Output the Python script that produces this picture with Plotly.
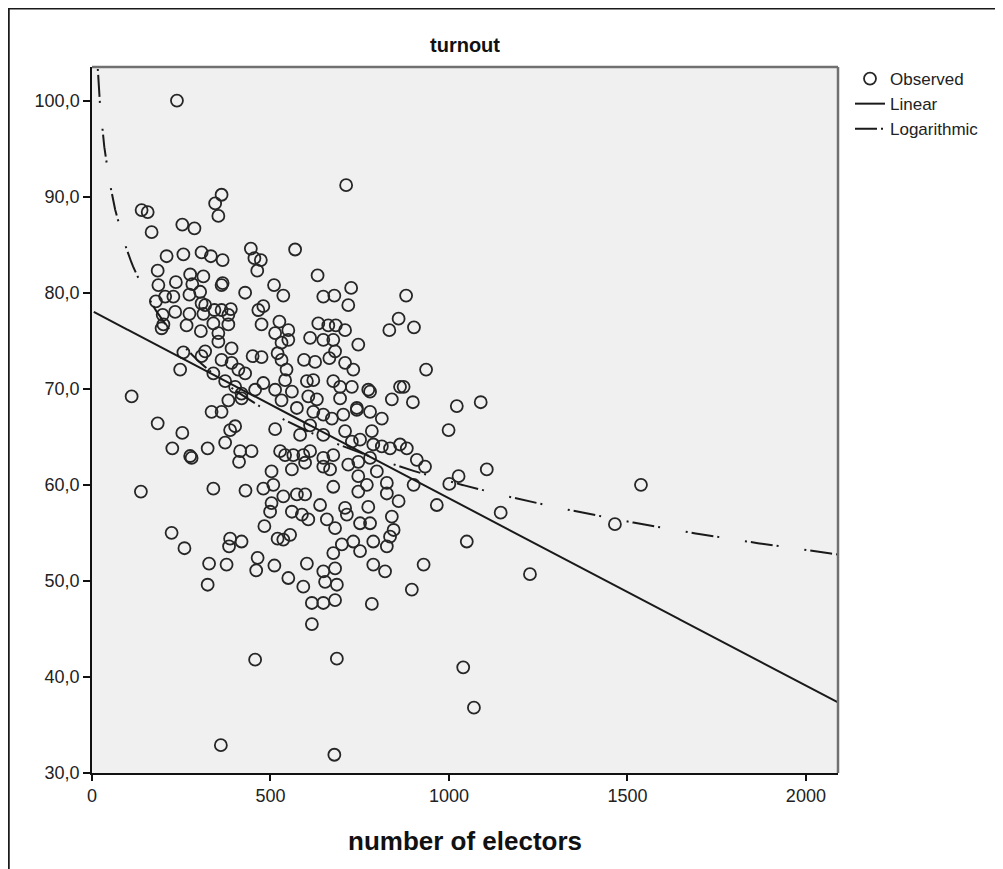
import numpy as np
import plotly.graph_objects as go

electors = [
    238,
    363, 345, 354, 139, 156, 167, 253, 287, 209, 256, 307, 333, 366, 445, 455, 473, 463, 569, 184,
    186, 235, 275, 312, 281, 363, 366, 429, 510, 536, 179, 205, 228, 273, 303, 307, 343, 363, 389, 382,
    317, 466, 480, 198, 233, 273, 312, 200, 195, 265, 305, 340, 354, 382, 475, 525, 513, 550, 531, 550,
    354, 391, 317, 256, 450, 475, 520, 531, 545, 247, 307, 363, 391, 410, 429, 340, 373, 401, 419, 457,
    480, 513, 541, 560, 531, 111, 382, 419,
    712, 632, 726, 648, 679, 718, 880, 859, 833, 902, 634, 662, 683, 709, 611, 648, 676, 746, 594, 625,
    665, 681, 709, 732, 936, 602, 620, 676, 695, 728, 774, 779, 863, 873, 840, 899, 1022, 1089, 630, 695,
    742, 606,
    184, 253, 225, 275, 279, 324, 373, 387, 401, 335, 363, 415, 447, 412, 513, 527, 541, 503, 508, 480,
    536, 503, 499, 560, 560, 137, 340, 430, 483, 520, 536, 555, 223, 259, 387, 384, 419, 328, 377, 464,
    460, 511, 550, 324,
    999, 1106, 1027, 1001, 966, 1050, 929, 896, 784, 616,
    602, 648, 653, 681, 686, 592, 616, 648, 681,
    788, 821, 676, 700, 732, 751,
    788, 826, 835, 845, 840, 859,
    639, 658, 681, 709, 714, 751, 779, 774,
    574, 597, 588, 606,
    676, 746, 770, 826, 826, 798, 746,
    901, 882, 910, 933, 835, 863, 812,
    788, 784, 812, 779,
    742, 704, 672, 648, 620, 574, 611, 583, 648, 709, 751, 728,
    564, 592, 611, 648, 676, 718, 746, 779,
    597, 648, 667,
    457, 686, 1040, 1070, 361, 679,
    1145, 1227, 1538, 1465,
]
turnout = [
    100.0,
    90.2, 89.3, 88.0, 88.6, 88.4, 86.3, 87.1, 86.7, 83.8, 84.0, 84.2, 83.8, 83.4, 84.6, 83.6, 83.4, 82.3, 84.5, 82.3,
    80.8, 81.1, 81.9, 81.7, 80.9, 80.8, 81.0, 80.0, 80.8, 79.7, 79.1, 79.6, 79.6, 79.8, 80.1, 78.9, 78.2, 78.2, 78.3, 77.7,
    78.7, 78.2, 78.6, 77.7, 78.0, 77.8, 77.8, 76.7, 76.3, 76.6, 76.0, 76.8, 75.8, 76.7, 76.7, 77.0, 75.8, 76.1, 74.8, 75.1,
    74.9, 74.2, 73.9, 73.8, 73.4, 73.3, 73.7, 73.0, 72.0, 72.0, 73.4, 73.0, 72.7, 72.0, 71.6, 71.6, 70.8, 70.2, 69.5, 69.9,
    70.6, 69.9, 70.9, 69.7, 68.8, 69.2, 68.8, 69.0,
    91.2, 81.8, 80.5, 79.6, 79.7, 78.7, 79.7, 77.3, 76.1, 76.4, 76.8, 76.6, 76.6, 76.1, 75.3, 75.1, 75.1, 74.6, 73.0, 72.8,
    73.2, 73.9, 72.7, 72.0, 72.0, 70.8, 70.9, 70.8, 70.2, 70.2, 69.9, 69.7, 70.2, 70.2, 68.9, 68.6, 68.2, 68.6, 68.9, 69.0,
    68.0, 69.2,
    66.4, 65.4, 63.8, 63.0, 62.8, 63.8, 64.4, 65.7, 66.1, 67.6, 67.6, 63.5, 63.5, 62.4, 65.8, 63.5, 63.1, 61.4, 60.0, 59.6,
    58.8, 58.1, 57.2, 61.6, 57.2, 59.3, 59.6, 59.4, 55.7, 54.4, 54.3, 54.8, 55.0, 53.4, 54.4, 53.6, 54.1, 51.8, 51.7, 52.4,
    51.1, 51.6, 50.3, 49.6,
    65.7, 61.6, 60.9, 60.1, 57.9, 54.1, 51.7, 49.1, 47.6, 45.5,
    51.8, 51.0, 49.9, 51.3, 49.6, 49.4, 47.7, 47.7, 48.0,
    51.7, 51.0, 52.9, 53.8, 54.1, 53.1,
    54.1, 53.6, 54.6, 55.3, 56.7, 58.3,
    57.9, 56.4, 55.5, 57.6, 56.9, 56.0, 56.0, 57.7,
    59.0, 59.0, 56.9, 56.4,
    59.8, 59.3, 60.0, 60.2, 59.1, 61.4, 60.9,
    60.0, 63.8, 62.6, 61.9, 63.8, 64.2, 64.0,
    64.2, 65.6, 66.9, 67.6,
    67.8, 67.3, 66.9, 67.3, 67.6, 68.0, 66.2, 65.2, 65.2, 65.6, 64.7, 64.5,
    63.1, 63.1, 63.5, 62.8, 63.1, 62.1, 62.4, 62.8,
    62.3, 61.9, 61.6,
    41.8, 41.9, 41.0, 36.8, 32.9, 31.9,
    57.1, 50.7, 60.0, 55.9,
]

# ---- Fitted model coefficients ----
linear_intercept = 78.1
linear_slope = -0.0195
log_constant = 131.8
log_coefficient = -10.34

x_ticks = [0, 500, 1000, 1500, 2000]
x_tick_labels = ["0", "500", "1000", "1500", "2000"]
y_ticks = [30, 40, 50, 60, 70, 80, 90, 100]
y_tick_labels = ["30,0", "40,0", "50,0", "60,0", "70,0", "80,0", "90,0", "100,0"]
x_range = [0, 2090]
y_range = [30, 103.5]

# figure is placed 8px into the page by the default body margin
W, H = 995, 861
ML, MT, PW, PH = 84, 59, 746, 706
MR, MB = W - ML - PW, H - MT - PH


def px_to_paper_x(px):
    return (px - ML) / PW


def py_to_paper_y(py):
    return (MT + PH - py) / PH


fit_x = np.concatenate([np.linspace(5, 100, 200), np.linspace(100, x_range[1], 400)])
lin_y = linear_intercept + linear_slope * fit_x
log_y = log_constant + log_coefficient * np.log(fit_x)

narrow = "Liberation Sans Narrow, Arial Narrow, Liberation Sans, Arial, sans-serif"
regular = "Liberation Sans, Arial, sans-serif"

fig = go.Figure()
fig.add_trace(go.Scatter(
    x=electors, y=turnout, mode="markers", name="Observed",
    marker=dict(symbol="circle-open", size=12, color="#262626", line=dict(width=1.8, color="#262626")),
))
fig.add_trace(go.Scatter(
    x=fit_x, y=lin_y, mode="lines", name="Linear",
    line=dict(color="#1a1a1a", width=2),
))
fig.add_trace(go.Scatter(
    x=fit_x, y=log_y, mode="lines", name="Logarithmic",
    line=dict(color="#1a1a1a", width=2, dash="22px,4px,2px,26px,2px,4px"),
))

shapes = [
    # gray top and right frame of plot area
    dict(type="line", xref="paper", yref="paper", x0=0, x1=1, y0=1, y1=1,
         line=dict(color="#707070", width=2.5)),
    dict(type="line", xref="paper", yref="paper", x0=1, x1=1, y0=0, y1=1,
         line=dict(color="#707070", width=2.5)),
    # outer frame (left and top)
    dict(type="line", xref="paper", yref="paper",
         x0=px_to_paper_x(0.5), x1=px_to_paper_x(0.5), y0=py_to_paper_y(H + 2), y1=py_to_paper_y(0),
         line=dict(color="#1a1a1a", width=2.5)),
    dict(type="line", xref="paper", yref="paper",
         x0=px_to_paper_x(0), x1=px_to_paper_x(W + 2), y0=py_to_paper_y(0.3), y1=py_to_paper_y(0.3),
         line=dict(color="#1a1a1a", width=2.5)),
]

annotations = [
    dict(text="<b>turnout</b>", xref="paper", yref="paper", x=0.5, y=py_to_paper_y(37),
         xanchor="center", yanchor="middle", showarrow=False,
         font=dict(family=regular, size=20, color="#111111")),
    dict(text="<b>number of electors</b>", xref="paper", yref="paper", x=0.5, y=py_to_paper_y(833),
         xanchor="center", yanchor="middle", showarrow=False,
         font=dict(family=narrow, size=26, color="#111111")),
]

fig.update_layout(
    width=W, height=H,
    margin=dict(l=ML, r=MR, t=MT, b=MB, autoexpand=False),
    paper_bgcolor="white",
    plot_bgcolor="#f0f0f0",
    showlegend=True,
    legend=dict(
        x=px_to_paper_x(842), y=py_to_paper_y(53), xanchor="left", yanchor="top",
        font=dict(family=regular, size=17, color="#222222"),
        bgcolor="rgba(0,0,0,0)", itemwidth=30, tracegroupgap=0,
    ),
    shapes=shapes,
    annotations=annotations,
    xaxis=dict(
        range=x_range, tickmode="array", tickvals=x_ticks, ticktext=x_tick_labels,
        showgrid=False, zeroline=False, showline=True, linecolor="#111111", linewidth=1.5,
        ticks="outside", ticklen=6, tickwidth=1.5, tickcolor="#111111",
        tickfont=dict(family=narrow, size=18, color="#222222"),
    ),
    yaxis=dict(
        range=y_range, tickmode="array", tickvals=y_ticks, ticktext=y_tick_labels,
        showgrid=False, zeroline=False, showline=True, linecolor="#111111", linewidth=1.5,
        ticks="outside", ticklen=7, tickwidth=1.5, tickcolor="#111111",
        tickfont=dict(family=narrow, size=18, color="#222222"),
    ),
)

fig.write_html("out.html")
